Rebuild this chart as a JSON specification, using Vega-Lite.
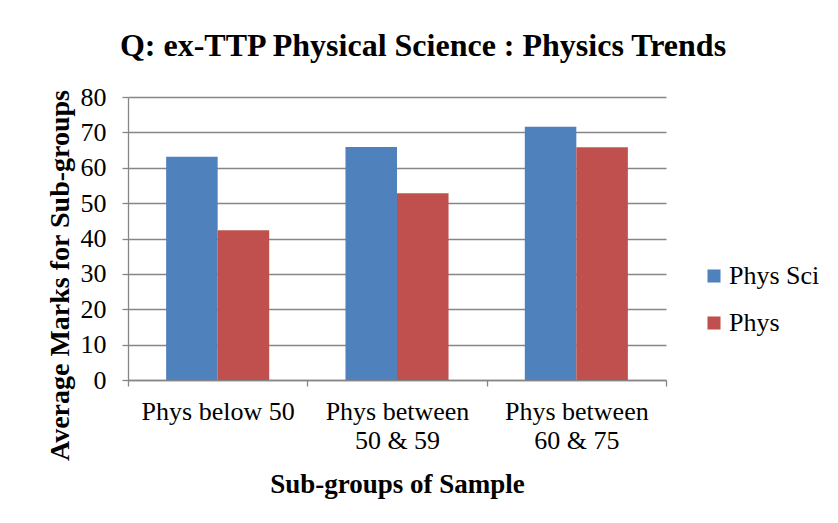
{
  "$schema": "https://vega.github.io/schema/vega-lite/v6.json",
  "autosize": {"type": "none"},
  "width": 538,
  "height": 283,
  "padding": {"left": 128, "top": 97, "right": 172, "bottom": 143},
  "background": "white",
  "title": {
    "text": "Q: ex-TTP Physical Science : Physics Trends",
    "font": "Liberation Serif",
    "fontSize": 32,
    "fontWeight": "bold",
    "color": "black",
    "anchor": "middle",
    "dx": 26,
    "offset": 21
  },
  "data": {
    "values": [
      {"group": "Phys below 50", "series": "Phys Sci", "value": 63.1},
      {"group": "Phys below 50", "series": "Phys", "value": 42.3},
      {"group": "Phys between 50 & 59", "series": "Phys Sci", "value": 65.9},
      {"group": "Phys between 50 & 59", "series": "Phys", "value": 52.8},
      {"group": "Phys between 60 & 75", "series": "Phys Sci", "value": 71.6},
      {"group": "Phys between 60 & 75", "series": "Phys", "value": 65.8}
    ]
  },
  "mark": {"type": "bar"},
  "encoding": {
    "x": {
      "field": "group",
      "type": "nominal",
      "sort": null,
      "scale": {"paddingInner": 0, "paddingOuter": 0},
      "axis": {
        "title": "Sub-groups of Sample",
        "labelAngle": 0,
        "labelExpr": "datum.label == 'Phys below 50' ? datum.label : [slice(datum.label, 0, 12), slice(datum.label, 13)]",
        "labelLineHeight": 29,
        "labelPadding": 12,
        "tickBand": "extent",
        "tickSize": 6,
        "titleY": 104,
        "titleBaseline": "middle"
      }
    },
    "xOffset": {
      "field": "series",
      "type": "nominal",
      "sort": ["Phys Sci", "Phys"],
      "scale": {"paddingInner": 0, "paddingOuter": 0.74}
    },
    "y": {
      "field": "value",
      "type": "quantitative",
      "scale": {"domain": [0, 80], "nice": false},
      "axis": {
        "title": "Average Marks for Sub-groups",
        "values": [0, 10, 20, 30, 40, 50, 60, 70, 80],
        "grid": true,
        "tickSize": 6,
        "labelPadding": 16,
        "titleFontSize": 28,
        "titleAngle": -90,
        "titleAlign": "center",
        "titleBaseline": "middle",
        "titleX": -68,
        "titleY": 178
      }
    },
    "color": {
      "field": "series",
      "type": "nominal",
      "sort": ["Phys Sci", "Phys"],
      "scale": {"domain": ["Phys Sci", "Phys"], "range": ["#4F81BD", "#C0504D"]},
      "legend": {
        "title": null,
        "orient": "none",
        "legendX": 573,
        "legendY": 166,
        "symbolType": "square",
        "symbolSize": 170,
        "symbolStrokeWidth": 0,
        "symbolOpacity": 1,
        "labelFontSize": 26,
        "labelFont": "Liberation Serif",
        "labelColor": "black",
        "labelOffset": 2,
        "rowPadding": 21,
        "padding": 0
      }
    }
  },
  "config": {
    "view": {"stroke": null},
    "axis": {
      "labelFont": "Liberation Serif",
      "labelFontSize": 26,
      "labelColor": "black",
      "titleFont": "Liberation Serif",
      "titleFontSize": 27,
      "titleFontWeight": "bold",
      "titleColor": "black",
      "domainColor": "#868686",
      "tickColor": "#868686",
      "gridColor": "#868686",
      "domainWidth": 1.3,
      "tickWidth": 1.3,
      "gridWidth": 1.3
    }
  }
}
